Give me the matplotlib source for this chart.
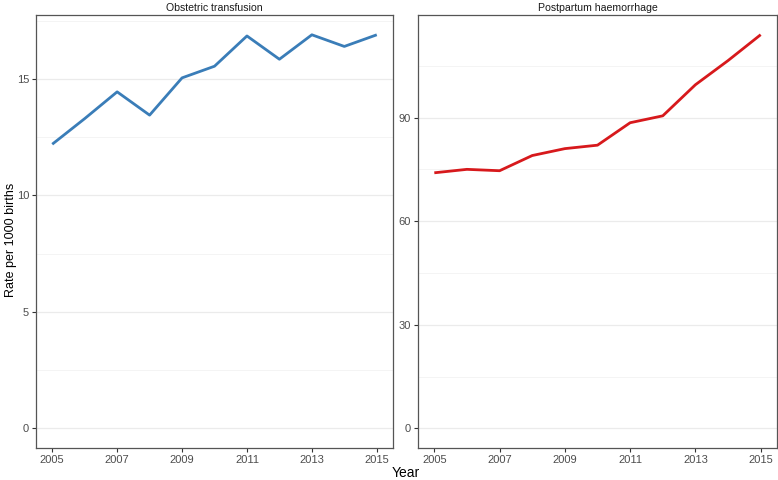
import matplotlib
matplotlib.use("Agg")
import matplotlib.pyplot as plt
from matplotlib.ticker import MultipleLocator

years = [2005, 2006, 2007, 2008, 2009, 2010, 2011, 2012, 2013, 2014, 2015]
transfusion = [12.2, 13.3, 14.45, 13.45, 15.05, 15.55, 16.85, 15.85, 16.9, 16.4, 16.9]
pph = [74.0, 75.0, 74.6, 79.0, 81.0, 82.0, 88.5, 90.5, 99.5, 106.5, 114.0]
titles = ["Obstetric transfusion", "Postpartum haemorrhage"]
xticks = [2005, 2007, 2009, 2011, 2013, 2015]

plt.rcParams['font.family'] = ['Liberation Sans', 'DejaVu Sans']

fig = plt.figure(figsize=(7.78, 4.8), dpi=100)
ax1 = fig.add_axes([36/778, 32/480, 357/778, 433/480])
ax2 = fig.add_axes([418/778, 32/480, 359/778, 433/480])

specs = [
    (ax1, transfusion, "#3A7DB8", 5, (-0.845, 17.75)),
    (ax2, pph, "#D7191C", 30, (-5.7, 119.7)),
]
for ax, vals, col, major, ylim in specs:
    ax.yaxis.set_major_locator(MultipleLocator(major))
    ax.yaxis.set_minor_locator(MultipleLocator(major / 2))
    ax.grid(True, which='major', axis='y', color='#EBEBEB', linewidth=0.9)
    ax.grid(True, which='minor', axis='y', color='#F2F2F2', linewidth=0.6)
    ax.set_axisbelow(True)
    ax.plot(years, vals, color=col, linewidth=2.0, solid_capstyle='butt')
    ax.set_xlim(2004.5, 2015.5)
    ax.set_ylim(*ylim)
    ax.set_xticks(xticks)
    ax.set_xticklabels([str(t) for t in xticks])
    for s in ax.spines.values():
        s.set_color('#555555')
        s.set_linewidth(0.9)
    ax.tick_params(axis='both', which='major', length=3, width=0.8, color='#333333',
                   labelsize=8, labelcolor='#4D4D4D', pad=2)
    ax.tick_params(axis='y', which='minor', length=0)

ax1.set_title(titles[0], fontsize=7.6, color='#1A1A1A', pad=3)
ax2.set_title(titles[1], fontsize=7.6, color='#1A1A1A', pad=3)

fig.text(406/778, 1 - 473/480, "Year", ha='center', va='center', fontsize=10, color='#000000')
fig.text(11/778, 0.5, "Rate per 1000 births", rotation=90, ha='center', va='center',
         fontsize=9, color='#000000')

fig.savefig("out.png", dpi=100)
